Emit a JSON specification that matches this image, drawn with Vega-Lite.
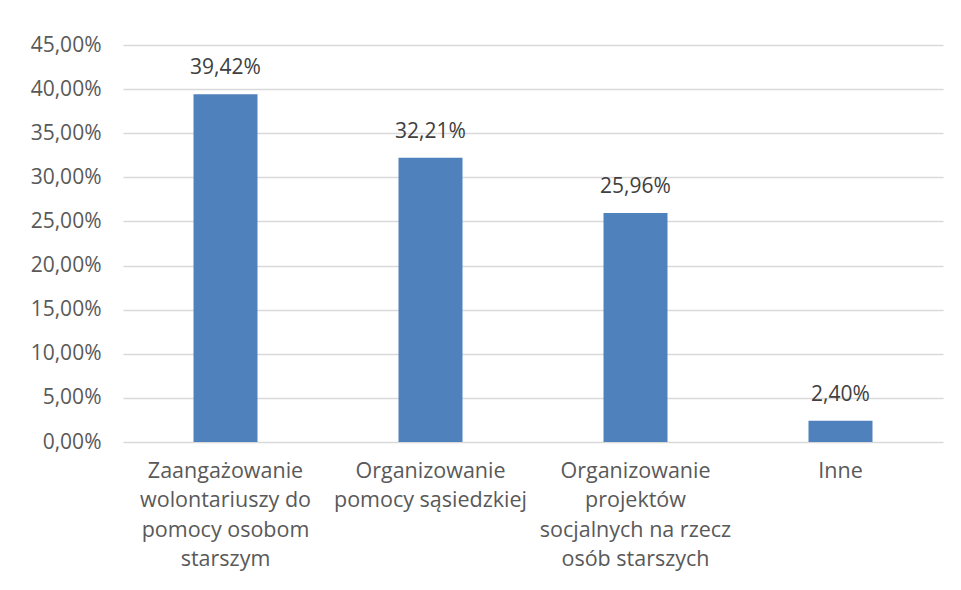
{
  "$schema": "https://vega.github.io/schema/vega-lite/v6.json",
  "width": 820,
  "height": 397,
  "autosize": "none",
  "padding": {"left": 123, "top": 45, "right": 18, "bottom": 148},
  "background": "white",
  "config": {
    "view": {"stroke": null},
    "locale": {"number": {"decimal": ",", "thousands": " ", "grouping": [3], "currency": ["", " zł"]}},
    "font": "Open Sans"
  },
  "data": {
    "values": [
      {"kategoria": "Zaangażowanie wolontariuszy do pomocy osobom starszym", "udzial": 0.3942},
      {"kategoria": "Organizowanie pomocy sąsiedzkiej", "udzial": 0.3221},
      {"kategoria": "Organizowanie projektów socjalnych na rzecz osób starszych", "udzial": 0.2596},
      {"kategoria": "Inne", "udzial": 0.024}
    ]
  },
  "encoding": {
    "x": {
      "field": "kategoria",
      "type": "nominal",
      "sort": null,
      "scale": {"paddingInner": 0, "paddingOuter": 0},
      "axis": {
        "title": null,
        "labelAngle": 0,
        "domain": false,
        "ticks": false,
        "labelPadding": 18,
        "labelFont": "Open Sans",
        "labelFontSize": 21.5,
        "labelColor": "#595959",
        "labelLineHeight": 29.5,
        "labelLimit": 300,
        "labelExpr": "{'Zaangażowanie wolontariuszy do pomocy osobom starszym': ['Zaangażowanie', 'wolontariuszy do', 'pomocy osobom', 'starszym'], 'Organizowanie pomocy sąsiedzkiej': ['Organizowanie', 'pomocy sąsiedzkiej'], 'Organizowanie projektów socjalnych na rzecz osób starszych': ['Organizowanie', 'projektów', 'socjalnych na rzecz', 'osób starszych'], 'Inne': ['Inne']}[datum.value]"
      }
    },
    "y": {
      "field": "udzial",
      "type": "quantitative",
      "scale": {"domain": [0, 0.45], "nice": false},
      "axis": {
        "title": null,
        "format": ".2%",
        "values": [0, 0.05, 0.1, 0.15, 0.2, 0.25, 0.3, 0.35, 0.4, 0.45],
        "domain": false,
        "ticks": false,
        "labelPadding": 22,
        "labelFont": "Open Sans",
        "labelFontSize": 21,
        "labelColor": "#595959",
        "gridColor": "#d9d9d9",
        "gridWidth": 1.5
      }
    }
  },
  "layer": [
    {"mark": {"type": "bar", "width": 64, "color": "#4f81bd"}},
    {
      "mark": {"type": "text", "baseline": "alphabetic", "dy": -20, "font": "Open Sans", "fontSize": 21, "color": "#404040"},
      "encoding": {"text": {"field": "udzial", "type": "quantitative", "format": ".2%"}}
    }
  ]
}
